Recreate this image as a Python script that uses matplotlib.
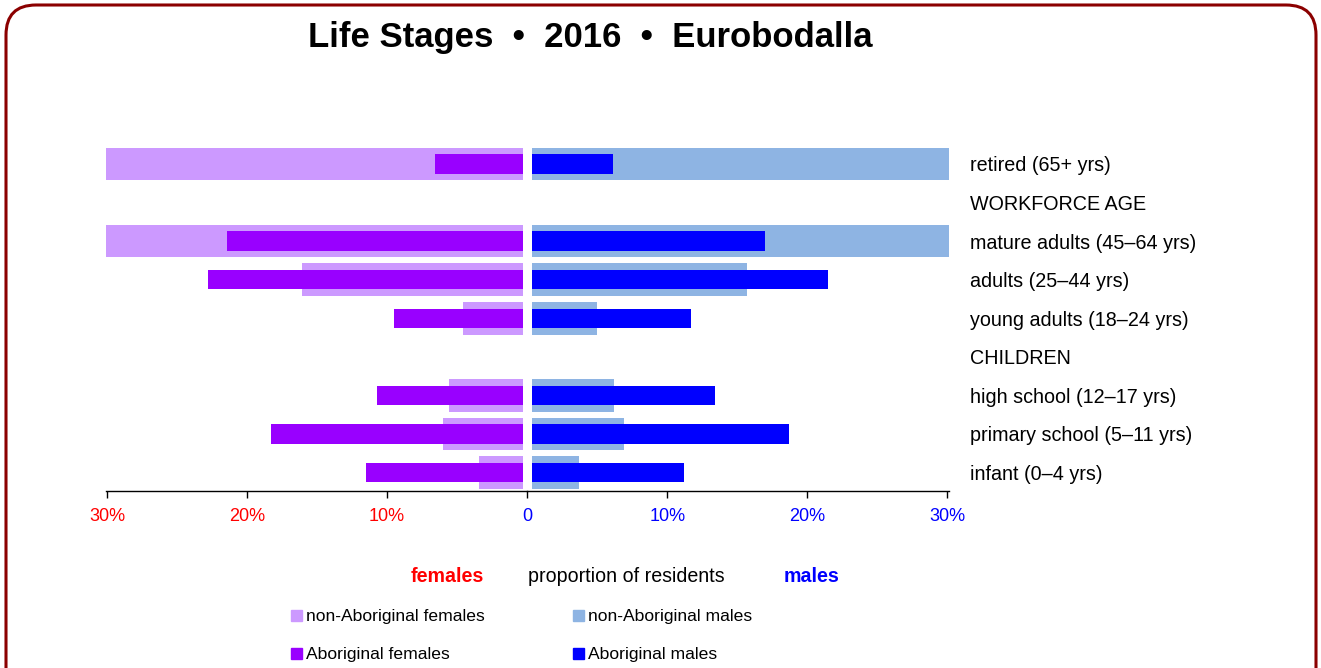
import numpy as np
import matplotlib
matplotlib.use("Agg")
import matplotlib.pyplot as plt
from matplotlib.patches import FancyBboxPatch, Rectangle
from matplotlib.transforms import IdentityTransform
from matplotlib import font_manager

# ---------------- data ----------------
categories = ["retired (65+ yrs)", "WORKFORCE AGE", "mature adults (45\u201364 yrs)",
              "adults (25\u201344 yrs)", "young adults (18\u201324 yrs)", "CHILDREN",
              "high school (12\u201317 yrs)", "primary school (5\u201311 yrs)", "infant (0\u20134 yrs)"]
nonab_females = [32.5, np.nan, 30.5, 16.1, 4.6, np.nan, 5.6, 6.0, 3.4]
ab_females    = [6.6, np.nan, 21.4, 22.8, 9.5, np.nan, 10.7, 18.3, 11.5]
nonab_males   = [32.5, np.nan, 30.5, 15.7, 5.0, np.nan, 6.2, 6.9, 3.7]
ab_males      = [6.1, np.nan, 17.0, 21.5, 11.7, np.nan, 13.4, 18.7, 11.2]
left_ticks = [30, 20, 10]
left_ticklabels = ["30%", "20%", "10%"]
right_ticks = [0, 10, 20, 30]
right_ticklabels = ["0", "10%", "20%", "30%"]

# ---------------- fonts ----------------
avail = {f.name for f in font_manager.fontManager.ttflist}
FAM = [f for f in ["Liberation Sans Narrow", "Liberation Sans", "DejaVu Sans"] if f in avail] or ["DejaVu Sans"]
NARROW_OK = "Liberation Sans Narrow" in avail
plt.rcParams["font.family"] = FAM

def fs(base_wide, base_narrow):
    return base_narrow if NARROW_OK else base_wide

C_NAF = "#cc99ff"
C_AF = "#9900ff"
C_NAM = "#8eb4e3"
C_AM = "#0000ff"
GAP = 0.3

W, H = 1321, 668
fig = plt.figure(figsize=(W / 100, H / 100), dpi=100)
fig.patch.set_facecolor("white")

def fx(px):
    return px / W

def fy(py):
    return 1 - py / H

ax_top, ax_bot = 144.7, 491.0
axL = fig.add_axes([fx(105.6), fy(ax_bot), fx(421.4), (ax_bot - ax_top) / H])
axR = fig.add_axes([fx(527.3), fy(ax_bot), fx(421.4), (ax_bot - ax_top) / H])

y = np.arange(len(categories))

def draw(ax, wide, narrow, cw, cn):
    wide = np.asarray(wide, float)
    narrow = np.asarray(narrow, float)
    m = ~np.isnan(wide)
    ax.barh(y[m], wide[m] - GAP, left=GAP, height=0.85, color=cw, zorder=2)
    m = ~np.isnan(narrow)
    ax.barh(y[m], narrow[m] - GAP, left=GAP, height=0.5, color=cn, zorder=3)
    ax.set_ylim(8.48, -0.5)
    for s in ["top", "left", "right"]:
        ax.spines[s].set_visible(False)
    ax.spines["bottom"].set_linewidth(1.0)
    ax.set_facecolor("none")

draw(axL, nonab_females, ab_females, C_NAF, C_AF)
draw(axR, nonab_males, ab_males, C_NAM, C_AM)

axL.set_xlim(30.1, 0)
axR.set_xlim(0, 30.1)

tick_fs = fs(13, 15)
axL.set_xticks(left_ticks)
axL.set_xticklabels(left_ticklabels, color="#ff0000", fontsize=tick_fs)
axR.set_xticks(right_ticks)
axR.set_xticklabels(right_ticklabels, color="#0000ff", fontsize=tick_fs)
for ax in (axL, axR):
    ax.tick_params(axis="x", length=5, width=1, pad=7.5)

axL.set_yticks([])
axR.set_yticks(y)
axR.set_yticklabels(categories, fontsize=fs(14.2, 16.5))
axR.yaxis.tick_right()
axR.tick_params(axis="y", length=0, pad=15)

# title
fig.text(fx(590), fy(38), "Life Stages  \u2022  2016  \u2022  Eurobodalla",
         ha="center", va="center", fontsize=25, fontweight="bold",
         family=["Liberation Sans", "DejaVu Sans"])

# axis caption
cap_fs = fs(14.1, 15)
fig.text(fx(447), fy(576), "females", ha="center", va="center", fontsize=cap_fs,
         fontweight="bold", color="#ff0000")
fig.text(fx(626), fy(576), "proportion of residents", ha="center", va="center",
         fontsize=cap_fs, color="black")
fig.text(fx(812), fy(576), "males", ha="center", va="center", fontsize=cap_fs,
         fontweight="bold", color="#0000ff")

# legend
legend_items = [("non-Aboriginal females", C_NAF, 291, 615),
                ("non-Aboriginal males", C_NAM, 573, 615),
                ("Aboriginal females", C_AF, 291, 653),
                ("Aboriginal males", C_AM, 573, 653)]
leg_fs = fs(12.6, 15)
for label, col, px, py in legend_items:
    fig.patches.append(Rectangle((fx(px), fy(py + 5.5)), fx(11), 11 / H,
                                 transform=fig.transFigure, color=col, figure=fig))
    fig.text(fx(px + 15), fy(py + 1), label, ha="left", va="center", fontsize=leg_fs)

# border
border = FancyBboxPatch((6, -40), 1310, 663 + 40,
                        boxstyle="round,pad=0,rounding_size=30",
                        transform=IdentityTransform(), fill=False,
                        edgecolor="#8b0000", linewidth=2.2, figure=fig)
fig.patches.append(border)

fig.savefig("out.png", dpi=100)
